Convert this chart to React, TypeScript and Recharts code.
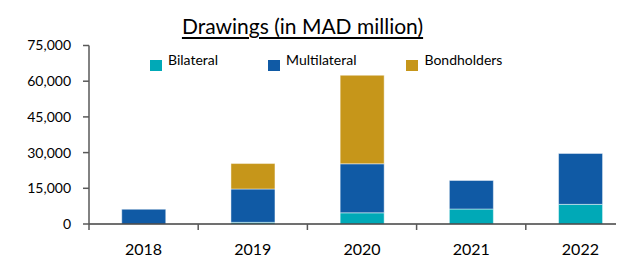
import React from "react";
import { Bar, BarChart, Legend, XAxis, YAxis } from "recharts";

const years = ["2018", "2019", "2020", "2021", "2022"];
const bilateral = [0, 700, 4700, 6300, 8250];
const multilateral = [6200, 14000, 20600, 12000, 21400];
const bondholders = [0, 10700, 37200, 0, 0];
const seriesNames = ["Bilateral", "Multilateral", "Bondholders"];
const yTicks = [0, 15000, 30000, 45000, 60000, 75000];

const data = years.map((year, i) => ({
  year,
  Bilateral: bilateral[i],
  Multilateral: multilateral[i],
  Bondholders: bondholders[i],
}));

const FONT = "Lato, 'DejaVu Sans', sans-serif";
const AXIS = "#595959";

// tick line sits on the left edge of each category band, label in the middle
const YearTick = (props: any) => {
  const { x, y, payload } = props;
  const off = payload.offset ?? 0;
  return (
    <g>
      <line x1={x - off} x2={x - off} y1={y - 20} y2={y - 14} stroke={AXIS} strokeWidth={1.5} />
      <text x={x} y={y} dy="0.71em" textAnchor="middle" fontSize={16} fontFamily={FONT} fill="#000">
        {payload.value}
      </text>
    </g>
  );
};

const LegendBox = ({ payload }: any) => {
  const items = [...(payload || [])].sort(
    (a: any, b: any) => seriesNames.indexOf(a.value) - seriesNames.indexOf(b.value)
  );
  return (
    <div style={{ display: "flex", fontFamily: FONT, fontSize: 14, color: "#000" }}>
      {items.map((p: any) => (
        <div key={p.value} style={{ display: "flex", alignItems: "flex-start", marginRight: 50 }}>
          <span style={{ width: 12, height: 11, marginTop: 8, marginRight: 6, background: p.color, display: "inline-block" }} />
          <span style={{ lineHeight: "16px" }}>{p.value}</span>
        </div>
      ))}
    </div>
  );
};

export default function App() {
  return (
    <div style={{ position: "relative", width: 616, height: 249, overflow: "hidden" }}>
      <div
        style={{
          position: "absolute",
          left: 294.5,
          top: 6.7,
          transform: "translateX(-50%)",
          whiteSpace: "nowrap",
          fontFamily: FONT,
          fontSize: 21,
          lineHeight: "21px",
          textDecoration: "underline",
          textUnderlineOffset: 3,
          color: "#000",
          zIndex: 2,
        }}
      >
        Drawings (in MAD million)
      </div>
      <BarChart width={630} height={249} data={data} margin={{ top: 37.5, right: 3, left: 0, bottom: 0 }} barCategoryGap="30%">
        <XAxis
          dataKey="year"
          height={33}
          axisLine={{ stroke: "#404040", strokeWidth: 1.5 }}
          tickLine={false}
          tickSize={6}
          tickMargin={14}
          interval={0}
          tick={<YearTick />}
        />
        <YAxis
          width={81}
          domain={[0, 75000]}
          ticks={yTicks}
          interval={0}
          axisLine={{ stroke: AXIS, strokeWidth: 1.5 }}
          tickLine={{ stroke: AXIS, strokeWidth: 1.5 }}
          tickSize={6}
          tickMargin={12}
          tick={{ fontSize: 14, fontFamily: FONT, fill: "#000" }}
          tickFormatter={(v: number) => v.toLocaleString("en-US")}
        />
        <Legend
          layout="horizontal"
          verticalAlign="middle"
          align="center"
          content={<LegendBox />}
          wrapperStyle={{ top: 44, left: 142, width: "auto" }}
        />
        <Bar dataKey="Bilateral" stackId="a" fill="#00A9B7" stroke="#ffffff" strokeOpacity={0.45} isAnimationActive={false} />
        <Bar dataKey="Multilateral" stackId="a" fill="#105AA5" stroke="#ffffff" strokeOpacity={0.45} isAnimationActive={false} />
        <Bar dataKey="Bondholders" stackId="a" fill="#C6961A" stroke="#ffffff" strokeOpacity={0.45} isAnimationActive={false} />
      </BarChart>
    </div>
  );
}
